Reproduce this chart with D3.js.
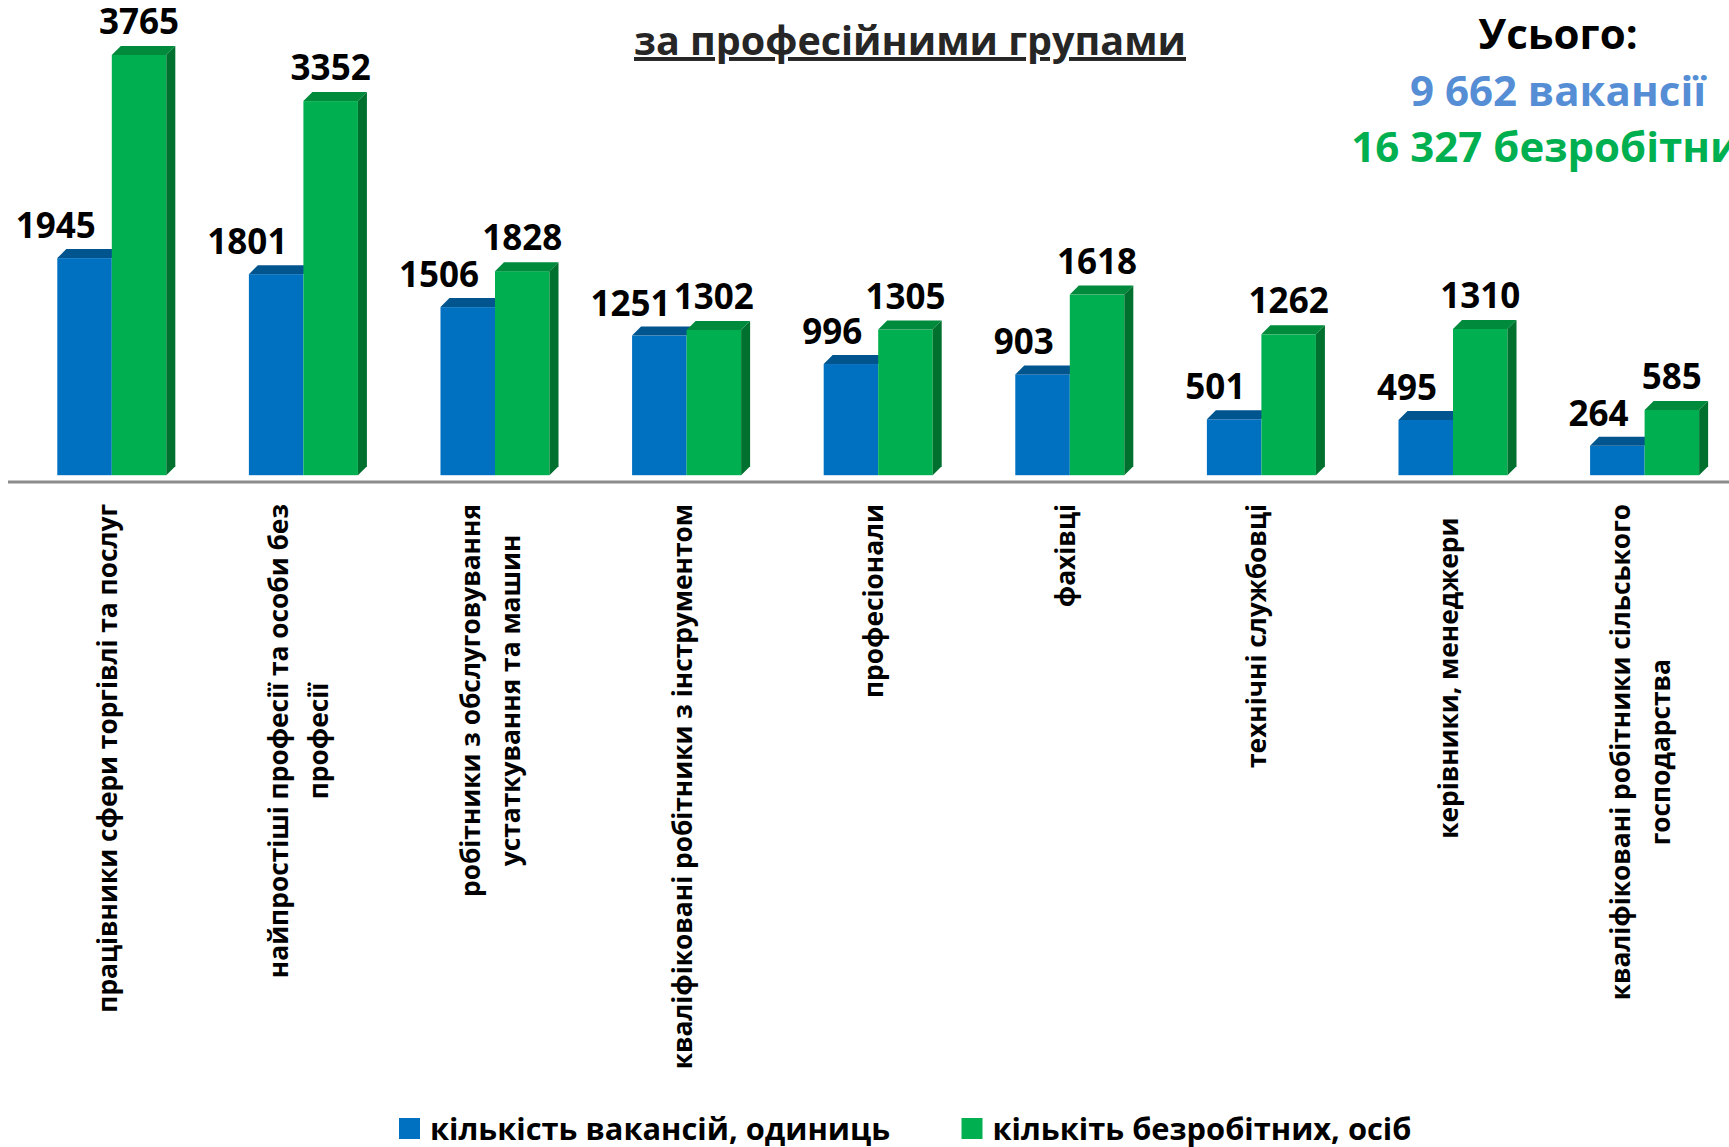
<!DOCTYPE html>
<html>
<head>
<meta charset="utf-8">
<script src="https://cdn.jsdelivr.net/npm/d3@7"></script>
<style>
  body { margin: 0; background: #fff; }
  text { font-family: "Open Sans", "Noto Sans", sans-serif; font-weight: 700; white-space: pre; }
</style>
</head>
<body>
<script>
// data
const categories = [
  ["працівники сфери торгівлі та послуг"],
  ["найпростіші професії та особи без", "професії"],
  ["робітники з обслуговування", "устаткування та машин"],
  ["кваліфіковані робітники з інструментом"],
  ["професіонали"],
  ["фахівці"],
  ["технічні службовці"],
  ["керівники, менеджери  "],
  ["кваліфіковані робітники сільського", "господарства"]
];
const vacancies = [1945, 1801, 1506, 1251, 996, 903, 501, 495, 264];
const unemployed = [3765, 3352, 1828, 1302, 1305, 1618, 1262, 1310, 585];
const seriesNames = ["кількість вакансій, одиниць", "кількіть безробітних, осіб"];
const title = "за професійними групами";
const totalLines = ["Усього:", "9 662 вакансії", "16 327 безробітних"];

const width = 1729;
const height = 1147;
const depth = 9;   // 3d offset of bars

const front = ["#0070c0", "#00b050"];
const top_ = ["#00558f", "#008a3c"];
const side = ["#004f86", "#00702f"];

const svg = d3.select("body")
    .append("svg")
      .attr("width", width)
      .attr("height", height);

const x0 = d3.scaleBand()
    .domain(d3.range(categories.length))
    .range([16, 16 + 9 * 191.6])
    .paddingInner(0.431)
    .paddingOuter(0.2155);

const x1 = d3.scaleBand()
    .domain([0, 1])
    .range([0, x0.bandwidth()]);

const y = d3.scaleLinear()
    .domain([0, 4000])
    .range([475.2, 475.2 - 4000 * 0.11161]);

const rows = categories.map((c, i) => ({i: i, values: [vacancies[i], unemployed[i]]}));

// bars
const groups = svg.append("g")
  .selectAll("g")
  .data(rows)
  .enter()
  .append("g")
    .attr("transform", d => "translate(" + x0(d.i) + ",0)");

const bars = groups.selectAll("g.bar")
  .data(d => d.values.map((v, s) => ({s: s, v: v})))
  .enter()
  .append("g")
    .attr("class", "bar");

bars.append("rect")
    .attr("x", d => x1(d.s))
    .attr("y", d => y(d.v))
    .attr("width", x1.bandwidth())
    .attr("height", d => y(0) - y(d.v))
    .attr("fill", d => front[d.s]);

bars.append("path")
    .attr("fill", d => top_[d.s])
    .attr("d", d => {
      const a = x1(d.s), b = a + x1.bandwidth(), t = y(d.v);
      return "M" + a + "," + t + "L" + (a + depth) + "," + (t - depth) +
             "L" + (b + depth) + "," + (t - depth) + "L" + b + "," + t + "Z";
    });

bars.filter(d => d.s === 1).append("path")
    .attr("fill", d => side[d.s])
    .attr("d", d => {
      const b = x1(d.s) + x1.bandwidth(), t = y(d.v), z = y(0);
      return "M" + b + "," + t + "L" + (b + depth) + "," + (t - depth) +
             "L" + (b + depth) + "," + (z - depth) + "L" + b + "," + z + "Z";
    });

// value labels
bars.append("text")
    .attr("x", d => d.s === 0 ? x1(0) + x1.bandwidth() - 16 : x1(1) + x1.bandwidth() / 2)
    .attr("y", d => y(d.v) - depth - (d.s === 0 ? 11 : 12))
    .attr("text-anchor", d => d.s === 0 ? "end" : "middle")
    .style("font-size", "35px")
    .attr("fill", "#000")
    .text(d => d.v);

// axis line
svg.append("line")
    .attr("x1", 8)
    .attr("x2", width)
    .attr("y1", 482)
    .attr("y2", 482)
    .attr("stroke", "#8c8c8c")
    .attr("stroke-width", 3);

// category labels, rotated
const catG = svg.append("g")
  .selectAll("g")
  .data(categories)
  .enter()
  .append("g")
    .attr("transform", (d, i) => "translate(" + (x0(i) + x0.bandwidth() / 2) + ",504) rotate(-90)");

catG.each(function(lines) {
  const g = d3.select(this);
  const n = lines.length;
  const texts = g.selectAll("text")
    .data(lines)
    .enter()
    .append("text")
      .attr("y", (d, k) => 5 + (k - (n - 1) / 2) * 40)
      .attr("text-anchor", "middle")
      .style("font-size", "26.3px")
      .attr("fill", "#000")
      .text(d => d);
  let longest = 0;
  texts.each(function() { longest = Math.max(longest, this.getComputedTextLength()); });
  texts.attr("x", -longest / 2);
});

// title
svg.append("text")
    .attr("x", 910)
    .attr("y", 55)
    .attr("text-anchor", "middle")
    .style("font-size", "39.5px")
    .style("text-decoration", "underline")
    .attr("fill", "#262626")
    .text(title);

// totals
const totalColors = ["#000000", "#558ed5", "#00b050"];
svg.append("g")
  .selectAll("text")
  .data(totalLines)
  .enter()
  .append("text")
    .attr("x", 1558)
    .attr("y", (d, i) => 49 + i * 56.5)
    .attr("text-anchor", "middle")
    .style("font-size", "42px")
    .attr("fill", (d, i) => totalColors[i])
    .text(d => d);

// legend
const legendX = [399, 961.5];
const legend = svg.append("g")
  .selectAll("g")
  .data(seriesNames)
  .enter()
  .append("g")
    .attr("transform", (d, i) => "translate(" + legendX[i] + ",1118)");

legend.append("rect")
    .attr("width", 21)
    .attr("height", 21)
    .attr("fill", (d, i) => front[i]);

legend.append("text")
    .attr("x", 31)
    .attr("y", 22)
    .style("font-size", "30.8px")
    .attr("fill", "#000")
    .text(d => d);
</script>
</body>
</html>
